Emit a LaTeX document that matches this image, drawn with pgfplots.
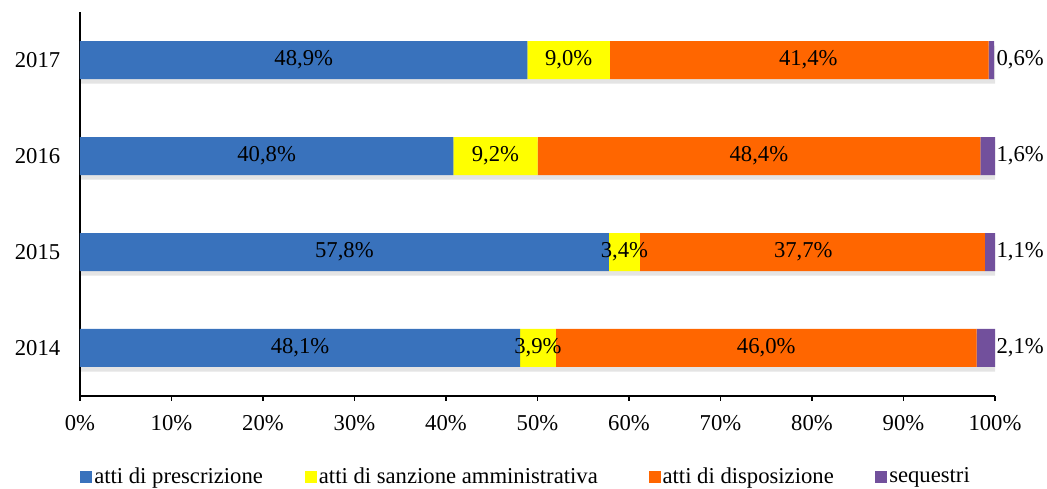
\documentclass[border=0pt]{standalone}
\usepackage{fontspec}
\setmainfont{Liberation Serif}
\usepackage{pgfplots}
\pgfplotsset{compat=1.18}
\definecolor{cblue}{RGB}{57,114,188}
\definecolor{cyel}{RGB}{255,255,0}
\definecolor{corange}{RGB}{255,102,0}
\definecolor{cpurp}{RGB}{114,80,156}
\definecolor{cshadow}{RGB}{228,228,228}
\begin{document}
\fontsize{17}{20}\selectfont
\begin{tikzpicture}
\useasboundingbox (-60pt,-69.75pt) rectangle (725.25pt,297pt);
\pgfplotsset{base/.style={scale only axis, width=686.25pt, height=288pt,
  xmin=0, xmax=100, ymin=0.5, ymax=4.5, at={(0pt,0pt)}, anchor=south west}}
% shadow layer
\begin{axis}[base, hide axis, xbar, bar width=28.5pt, bar shift=-3.5pt]
\addplot[draw=none, fill=cshadow] coordinates {(100.3,1) (100.3,2) (100.3,3) (100.3,4)};
\end{axis}
\begin{axis}[base,
  xbar stacked, bar width=28.5pt,
  axis x line*=bottom, axis y line*=left,
  axis line style={line width=1pt},
  xtick={0,10,...,100},
  xticklabels={0\%,10\%,20\%,30\%,40\%,50\%,60\%,70\%,80\%,90\%,100\%},
  xtick align=outside, major tick length=3.75pt,
  x tick style={line width=1pt, black},
  xticklabel style={yshift=-5pt},
  ytick={1,2,3,4}, yticklabels={2014,2015,2016,2017},
  y tick style={draw=none},
  yticklabel style={xshift=-9pt},
  legend columns=4,
  legend style={at={(0,-0.211)}, anchor=west, draw=none, fill=none,
    inner sep=0pt,
    nodes={inner sep=1.5pt},
    /tikz/every even column/.append style={column sep=23pt}},
  legend cell align=left,
  legend image code/.code={\path[#1, draw=none] (0pt,-4.5pt) rectangle (9pt,4.5pt);},
]
\addplot[draw=none, fill=cblue] coordinates {(48.1,1) (57.8,2) (40.8,3) (48.9,4)};
\addplot[draw=none, fill=cyel] coordinates {(3.9,1) (3.4,2) (9.2,3) (9.0,4)};
\addplot[draw=none, fill=corange] coordinates {(46.0,1) (37.7,2) (48.4,3) (41.4,4)};
\addplot[draw=none, fill=cpurp] coordinates {(2.1,1) (1.1,2) (1.6,3) (0.6,4)};
\legend{\makebox[133.5pt][l]{atti di prescrizione}, \makebox[222.75pt][l]{atti di sanzione amministrativa}, \makebox[135pt][l]{atti di disposizione}, \makebox[55.5pt][l]{sequestri}}
\end{axis}
\begin{axis}[base, hide axis]
\addplot[draw=none, mark=none, nodes near coords, point meta=explicit symbolic,
  nodes near coords style={anchor=center, text=black}]
  table[x=x, y=y, meta=lab] {
x y lab
24.05 1 48,1\%
50.05 1 3,9\%
75.0 1 46,0\%
28.9 2 57,8\%
59.5 2 3,4\%
79.05 2 37,7\%
20.4 3 40,8\%
45.4 3 9,2\%
74.2 3 48,4\%
24.45 4 48,9\%
53.4 4 9,0\%
79.6 4 41,4\%
};
\addplot[draw=none, mark=none, nodes near coords, point meta=explicit symbolic,
  nodes near coords style={anchor=west, inner sep=1pt, text=black}]
  table[x=x, y=y, meta=lab] {
x y lab
100 1 2,1\%
100 2 1,1\%
100 3 1,6\%
100 4 0,6\%
};
\end{axis}
\end{tikzpicture}
\end{document}
